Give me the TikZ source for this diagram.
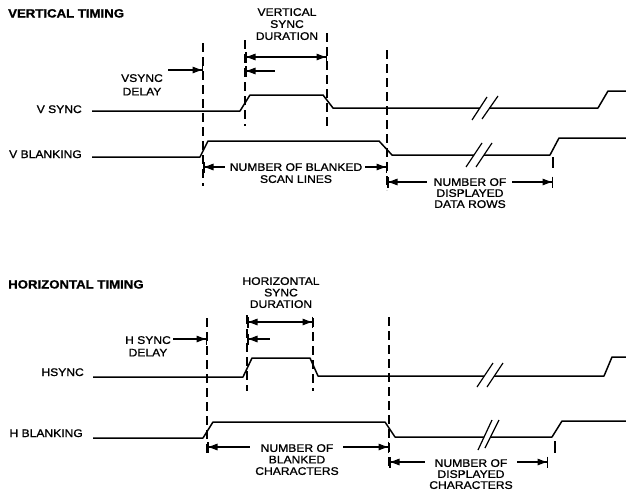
\documentclass[tikz,border=0pt]{standalone}
\usepackage{fontspec}
\setmainfont{Liberation Sans}[FakeStretch=1.1, FakeBold=1.2]
\usetikzlibrary{arrows.meta}
\tikzset{
  sig/.style={line width=1.5pt, line join=round},
  dline/.style={line width=1.3pt, dash pattern=on 9pt off 5pt},
  tickline/.style={line width=1.3pt},
  brk/.style={line width=1.2pt},
  dimR/.style={line width=1.3pt, -{Triangle[length=9pt,width=6.5pt]Bar[width=11pt,line width=1.5pt]}},
  dimL/.style={line width=1.3pt, {Bar[width=11pt,line width=1.5pt]Triangle[length=9pt,width=6.5pt]}-},
  dimLR/.style={line width=1.3pt, {Bar[width=11pt,line width=1.5pt]Triangle[length=9pt,width=6.5pt]}-{Triangle[length=9pt,width=6.5pt]Bar[width=11pt,line width=1.5pt]}},
  lbl/.style={font=\fontsize{11}{12}\selectfont, inner sep=0pt},
  ttl/.style={font=\bfseries\fontsize{12}{14}\selectfont, inner sep=0pt, anchor=base west}
}
\begin{document}
\begin{tikzpicture}[x=1pt,y=-1pt]
\useasboundingbox (0,0) rectangle (626,493);
% ================= VERTICAL TIMING =================
\node[ttl] (vtitle) at (8,17.5) {VERTICAL TIMING};
\node[lbl, anchor=north, align=center, font=\fontsize{11}{12}\selectfont] (vdur) at (287,8) {VERTICAL\\SYNC\\DURATION};
\node[lbl, anchor=north, align=center, font=\fontsize{11}{13.5}\selectfont] (vdel) at (142,74) {VSYNC\\DELAY};
\node[lbl, anchor=base east] (vsynclbl) at (82,113) {V SYNC};
\node[lbl, anchor=base east] (vblanklbl) at (82,158) {V BLANKING};
% dashed lines
\coordinate (va1) at (203,43);  \coordinate (vb1) at (203,186);
\coordinate (va2) at (245,40);  \coordinate (vb2) at (245,126);
\coordinate (va3) at (327,33);  \coordinate (vb3) at (327,130);
\coordinate (va4) at (387,50);  \coordinate (vb4) at (387,190);
\coordinate (va5) at (553,157); \coordinate (vb5) at (553,168);
\draw[dline] (va1) -- (vb1);
\draw[dline] (va2) -- (vb2);
\draw[dline] (va3) -- (vb3);
\draw[dline] (va4) -- (vb4);
\draw[tickline] (va5) -- (vb5);
% V SYNC signal
\draw[sig] (92,111) -- (240,111) -- (250,95) -- (323,95) -- (333,108) -- (480,108);
\draw[sig] (489,108) -- (598,108) -- (608,91) -- (626,91);
\draw[brk] (472,120) -- (487,97);
\draw[brk] (482,119) -- (498,96);
% V BLANKING signal
\draw[sig] (92,157) -- (200,157) -- (208,141) -- (379,141) -- (392,155) -- (474,155);
\draw[sig] (484,155) -- (550,155) -- (559,138) -- (626,138);
\draw[brk] (466,167) -- (482,143);
\draw[brk] (476,167) -- (492,143);
% dimension arrows
\coordinate (vdelA) at (168,70); \coordinate (vdelB) at (203,70);
\draw[dimR] (vdelA) -- (vdelB);
\coordinate (vdurA) at (245,57); \coordinate (vdurB) at (327,57);
\draw[dimLR] (vdurA) -- (vdurB);
\coordinate (vsmA) at (245,71); \coordinate (vsmB) at (275,71);
\draw[dimL] (vsmA) -- (vsmB);
\node[lbl, anchor=north, align=center] (vblk) at (296,163) {NUMBER OF BLANKED\\SCAN LINES};
\coordinate (vblkA) at (203,167); \coordinate (vblkB) at (225,167);
\coordinate (vblkC) at (365,167); \coordinate (vblkD) at (387,167);
\draw[dimL] (vblkA) -- (vblkB);
\draw[dimR] (vblkC) -- (vblkD);
\node[lbl, anchor=north, align=center, font=\fontsize{11}{11}\selectfont] (vdisp) at (470,178) {NUMBER OF\\DISPLAYED\\DATA ROWS};
\coordinate (vdspA) at (387,182); \coordinate (vdspB) at (427,182);
\coordinate (vdspC) at (512,182); \coordinate (vdspD) at (553,182);
\draw[dimL] (vdspA) -- (vdspB);
\draw[dimR] (vdspC) -- (vdspD);
% ================= HORIZONTAL TIMING =================
\node[ttl] (htitle) at (8,288.5) {HORIZONTAL TIMING};
\node[lbl, anchor=north, align=center, font=\fontsize{11}{11.5}\selectfont] (hdur) at (281,277) {HORIZONTAL\\SYNC\\DURATION};
\node[lbl, anchor=north, align=center, font=\fontsize{11}{12.5}\selectfont] (hdel) at (148,336) {H SYNC\\DELAY};
\node[lbl, anchor=base east] (hsynclbl) at (84,376) {HSYNC};
\node[lbl, anchor=base east] (hblanklbl) at (83,437) {H BLANKING};
% dashed lines
\coordinate (ha1) at (207,318); \coordinate (hb1) at (207,455);
\coordinate (ha2) at (247,315); \coordinate (hb2) at (247,391);
\coordinate (ha3) at (313,318); \coordinate (hb3) at (313,391);
\coordinate (ha4) at (389,317); \coordinate (hb4) at (389,468);
\coordinate (ha5) at (555,441); \coordinate (hb5) at (555,453);
\draw[dline] (ha1) -- (hb1);
\draw[dline] (ha2) -- (hb2);
\draw[dline] (ha3) -- (hb3);
\draw[dline] (ha4) -- (hb4);
\draw[tickline] (ha5) -- (hb5);
% HSYNC signal
\draw[sig] (93,377) -- (243,377) -- (252,358) -- (310,358) -- (318,376) -- (484,376);
\draw[sig] (494,376) -- (604,376) -- (612,357) -- (626,357);
\draw[brk] (477,387) -- (493,363);
\draw[brk] (487,387) -- (503,363);
% H BLANKING signal
\draw[sig] (93,438) -- (203,438) -- (213,422) -- (385,422) -- (395,437) -- (484,437);
\draw[sig] (490,437) -- (552,437) -- (562,421) -- (626,421);
\draw[brk] (478,450) -- (492,420);
\draw[brk] (485,448) -- (499,420);
% dimension arrows
\coordinate (hdelA) at (173,339); \coordinate (hdelB) at (207,339);
\draw[dimR] (hdelA) -- (hdelB);
\coordinate (hdurA) at (247,322); \coordinate (hdurB) at (313,322);
\draw[dimLR] (hdurA) -- (hdurB);
\coordinate (hsmA) at (247,339); \coordinate (hsmB) at (270,339);
\draw[dimL] (hsmA) -- (hsmB);
\node[lbl, anchor=north, align=center, font=\fontsize{11}{11.5}\selectfont] (hblk) at (297,444) {NUMBER OF\\BLANKED\\CHARACTERS};
\coordinate (hblkA) at (207,447); \coordinate (hblkB) at (250,447);
\coordinate (hblkC) at (343,447); \coordinate (hblkD) at (389,447);
\draw[dimL] (hblkA) -- (hblkB);
\draw[dimR] (hblkC) -- (hblkD);
\node[lbl, anchor=north, align=center, font=\fontsize{11}{11}\selectfont] (hdisp) at (471,459) {NUMBER OF\\DISPLAYED\\CHARACTERS};
\coordinate (hdspA) at (389,462); \coordinate (hdspB) at (425,462);
\coordinate (hdspC) at (517,462); \coordinate (hdspD) at (548,462);
\draw[dimL] (hdspA) -- (hdspB);
\draw[dimR] (hdspC) -- (hdspD);
\end{tikzpicture}
\end{document}
